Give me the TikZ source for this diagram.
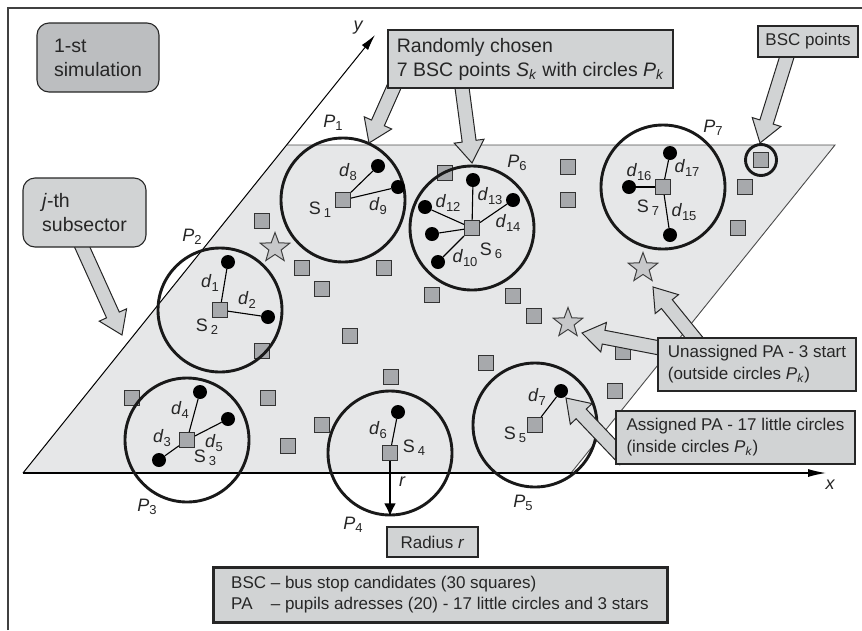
\documentclass[tikz,border=0pt]{standalone}
\usepackage{fontspec}
\setmainfont{Liberation Sans}
\usetikzlibrary{shapes.geometric,arrows.meta,calc}
\definecolor{sectorgray}{HTML}{E6E7E8}
\definecolor{squaregray}{HTML}{A7A9AC}
\definecolor{boxgray}{HTML}{D1D3D4}
\definecolor{darkbox}{HTML}{BCBEC0}
\definecolor{stargray}{HTML}{C7C8CA}
\newcommand{\lowsub}[1]{\raisebox{-0.35ex}{\fontsize{13}{13}\selectfont #1}}
\newcommand{\dlab}[1]{\textit{d}\lowsub{#1}}
\newcommand{\plab}[1]{\textit{P}\lowsub{#1}}
\newcommand{\slab}[1]{S\,\lowsub{#1}}
% wide arrow from #1 to the tip #2
\newcommand{\fatarrow}[2]{%
  \coordinate (fa-h) at ($(#2)!22pt!(#1)$);
  \filldraw[fill=boxgray, draw=black!85, line width=1pt]
    ($(#1)!7pt!-90:(#2)$) -- ($(fa-h)!7pt!-90:(#2)$) -- ($(fa-h)!15pt!-90:(#2)$) -- (#2)
    -- ($(fa-h)!15pt!90:(#2)$) -- ($(fa-h)!7pt!90:(#2)$) -- ($(#1)!7pt!90:(#2)$) -- cycle;}
\begin{document}
\begin{tikzpicture}[x=1pt, y=-1pt,
  every node/.style={inner sep=0pt, text=black!85},
  bsc/.style={draw=black!80, fill=squaregray, minimum size=15pt, line width=1.1pt},
  pa/.style={circle, fill=black, minimum size=14pt},
  catchment/.style={circle, draw=black!90, line width=2.9pt, minimum size=124pt},
  starpa/.style={star, star points=5, star point ratio=2.4, minimum size=31pt,
    draw=black!75, fill=stargray, line width=1pt},
  link/.style={line width=1.1pt},
  lbl/.style={font=\fontsize{18}{20}\selectfont},
  note/.style={draw=black!85, fill=boxgray, line width=1.1pt, align=left,
    font=\fontsize{17}{22}\selectfont},
  bignote/.style={note, font=\fontsize{19.5}{24}\selectfont}
]
\useasboundingbox (0,0) rectangle (862,630);
\draw[black!75, line width=1.5pt] (8,630) -- (8,8) -- (862,8);

% subsector and axes
\coordinate (origin) at (23,473);
\coordinate (nw) at (287,145);
\coordinate (ne) at (835,145);
\coordinate (se) at (571,473);
\coordinate (xend) at (826,473);
\coordinate (yend) at (375,35);
\fill[sectorgray] (origin) -- (nw) -- (ne) -- (se) -- cycle;
\draw[black!70, line width=0.9pt] (nw) -- (ne) -- (se);
\draw[line width=1.2pt, -{Latex[length=18pt,width=8pt]}] (origin) -- (xend);
\draw[line width=1pt, -{Latex[length=16pt,width=8pt]}] (origin) -- (yend);
\node[lbl, font=\fontsize{18}{20}\selectfont\itshape] (ylab) at (358,28) {y};
\node[lbl, font=\fontsize{18}{20}\selectfont\itshape] (xlab) at (830,485) {x};

% BSC points not chosen
\foreach \x/\y [count=\i] in {262/221, 302/268, 322/289, 384/268, 432/295, 445/173,
    568/167, 568/200, 745/187, 738/228, 761/160, 513/296, 534/316, 486/363, 623/352,
    350/336, 391/377, 262/351, 132/398, 268/398, 322/425, 288/446, 615/391}
  \node[bsc] (bsc\i) at (\x,\y) {};
\node[circle, draw=black!90, line width=2.9pt, minimum size=31pt] (ring) at (bsc11) {};

% circles P_k with chosen points S_k
\node[catchment] (p1) at (343,200) {};
\node[catchment] (p2) at (220,310) {};
\node[catchment] (p3) at (187,440) {};
\node[catchment] (p4) at (390,453) {};
\node[catchment] (p5) at (535,425) {};
\node[catchment] (p6) at (472,228) {};
\node[catchment] (p7) at (663,187) {};
\foreach \k in {1,...,7}
  \node[bsc] (s\k) at (p\k) {};

% pupils addresses
\node[pa] (pa1) at (228,262) {};
\node[pa] (pa2) at (268,317) {};
\node[pa] (pa3) at (159,460) {};
\node[pa] (pa4) at (200,392) {};
\node[pa] (pa5) at (228,419) {};
\node[pa] (pa6) at (398,412) {};
\node[pa] (pa7) at (561,391) {};
\node[pa] (pa8) at (378,166) {};
\node[pa] (pa9) at (398,187) {};
\node[pa] (pa10) at (438,262) {};
\node[pa] (pa11) at (432,234) {};
\node[pa] (pa12) at (425,207) {};
\node[pa] (pa13) at (473,180) {};
\node[pa] (pa14) at (513,200) {};
\node[pa] (pa15) at (670,235) {};
\node[pa] (pa16) at (629,187) {};
\node[pa] (pa17) at (670,153) {};
\foreach \s/\d in {s1/pa8, s1/pa9, s2/pa1, s2/pa2, s3/pa3, s3/pa4, s3/pa5, s4/pa6,
    s5/pa7, s6/pa10, s6/pa11, s6/pa12, s6/pa13, s6/pa14, s7/pa15, s7/pa16, s7/pa17}
  \draw[link] (\s) -- (\d);
\node[starpa] (star1) at (275,248) {};
\node[starpa] (star2) at (643,268) {};
\node[starpa] (star3) at (568,323) {};

% radius
\draw[line width=2.8pt, -{Latex[length=13pt,width=12pt]}] (s4) -- (p4.south);
\node[lbl, font=\fontsize{18}{20}\selectfont\itshape] (rlab) at (402,482) {r};

% labels
\node[lbl] at (333,123) {\plab{1}};
\node[lbl] at (192,237) {\plab{2}};
\node[lbl] at (147,507) {\plab{3}};
\node[lbl] at (353,525) {\plab{4}};
\node[lbl] at (523,503) {\plab{5}};
\node[lbl] at (517,163) {\plab{6}};
\node[lbl] at (713,128) {\plab{7}};
\node[lbl] at (320,210) {\slab{1}};
\node[lbl] at (207,327) {\slab{2}};
\node[lbl] at (205,458) {\slab{3}};
\node[lbl] at (414,448) {\slab{4}};
\node[lbl] at (515,435) {\slab{5}};
\node[lbl] at (491,251) {\slab{6}};
\node[lbl] at (648,208) {\slab{7}};
\node[lbl] at (210,283) {\dlab{1}};
\node[lbl] at (247,300) {\dlab{2}};
\node[lbl] at (162,438) {\dlab{3}};
\node[lbl] at (180,410) {\dlab{4}};
\node[lbl] at (214,443) {\dlab{5}};
\node[lbl] at (378,430) {\dlab{6}};
\node[lbl] at (537,397) {\dlab{7}};
\node[lbl] at (348,172) {\dlab{8}};
\node[lbl] at (378,206) {\dlab{9}};
\node[lbl] at (465,258) {\dlab{10}};
\node[lbl] at (448,203) {\dlab{12}};
\node[lbl] at (490,196) {\dlab{13}};
\node[lbl] at (508,223) {\dlab{14}};
\node[lbl] at (684,212) {\dlab{15}};
\node[lbl] at (639,172) {\dlab{16}};
\node[lbl] at (687,168) {\dlab{17}};

% callout arrows
\coordinate (a1s) at (79,240);  \coordinate (a1t) at (122,335);
\coordinate (a2s) at (397,80);  \coordinate (a2t) at (369,143);
\coordinate (a3s) at (461,80);  \coordinate (a3t) at (472,163);
\coordinate (a4s) at (789,50);  \coordinate (a4t) at (760,143);
\coordinate (a5s) at (700,345); \coordinate (a5t) at (653,287);
\coordinate (a6s) at (665,349); \coordinate (a6t) at (582,333);
\coordinate (a7s) at (625,460); \coordinate (a7t) at (566,398);
\fatarrow{a1s}{a1t}
\fatarrow{a2s}{a2t}
\fatarrow{a3s}{a3t}
\fatarrow{a4s}{a4t}
\fatarrow{a5s}{a5t}
\fatarrow{a6s}{a6t}
\fatarrow{a7s}{a7t}

% callouts
\node[bignote, fill=darkbox, rounded corners=12pt, minimum width=122pt, minimum height=69pt]
  (sim) at (98,57.5) {1-st\\simulation};
\node[bignote, rounded corners=12pt, minimum width=123pt, minimum height=69pt]
  (sub) at (84.5,212.5) {\textit{j}-th\\subsector};
\node[bignote, minimum width=285pt, minimum height=58pt] (chosen) at (530.5,59)
  {Randomly chosen\\7 BSC points \textit{S}\textsubscript{\textit{k}} with circles \textit{P}\textsubscript{\textit{k}}};
\node[note, minimum width=100pt, minimum height=31pt] (bscnote) at (808,41.5) {BSC points};
\node[note, minimum width=198pt, minimum height=53pt] (unassigned) at (757,364.5)
  {Unassigned PA - 3 start\\(outside circles \textit{P}\textsubscript{\textit{k}})};
\node[note, minimum width=239pt, minimum height=53pt] (assigned) at (735.5,437.5)
  {Assigned PA - 17 little circles\\(inside circles \textit{P}\textsubscript{\textit{k}})};
\node[note, minimum width=91pt, minimum height=30pt] (radius) at (432.5,542) {Radius \textit{r}};
\node[note, line width=3pt, minimum width=454pt, minimum height=55pt,
  font=\fontsize{17}{21}\selectfont] (legend) at (440,594.5)
  {\begin{tabular}{@{}l@{ }l@{}}
   BSC & -- bus stop candidates (30 squares)\\
   PA  & -- pupils adresses (20) - 17 little circles and 3 stars
   \end{tabular}};
\end{tikzpicture}
\end{document}
